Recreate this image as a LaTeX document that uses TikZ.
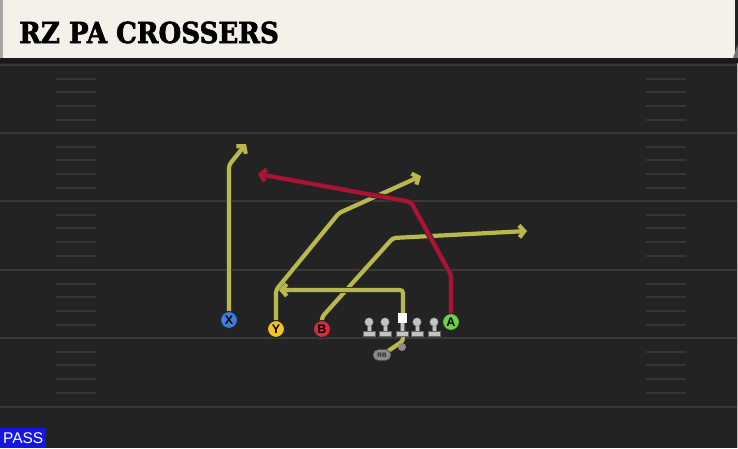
\documentclass[tikz,border=0pt]{standalone}
\usepackage{fontspec}
\setmainfont{DejaVu Serif}
\setsansfont{Liberation Sans}
\usetikzlibrary{arrows.meta,shapes.misc}

\definecolor{field}{HTML}{232323}
\definecolor{yardline}{HTML}{3A3A3A}
\definecolor{hashc}{HTML}{353535}
\definecolor{cream}{HTML}{F4F1EA}
\definecolor{routey}{HTML}{B9B84C}
\definecolor{router}{HTML}{AC1233}
\definecolor{xblue}{HTML}{3C7FE0}
\definecolor{yyellow}{HTML}{F5C420}
\definecolor{bred}{HTML}{E02A3A}
\definecolor{agreen}{HTML}{6CD244}
\definecolor{passblue}{HTML}{1515E6}
\definecolor{olgray}{HTML}{C4C4C4}

\tikzset{
  route/.style={line width=4.2pt, color=routey, rounded corners=3pt, line cap=round,
    -{Straight Barb[length=5pt,width=12pt,line width=4.2pt]},
    preaction={draw=black!85, line width=5.8pt,
      -{Straight Barb[length=5pt,width=12pt,line width=5.8pt]}}},
  hot/.style={route, color=router},
  player/.style={circle, draw=black!85, line width=1.1pt, minimum size=17pt,
    inner sep=0pt, font=\sffamily\bfseries\fontsize{12.5}{12.5}\selectfont, text=black},
  rbbox/.style={rounded rectangle,fill=black!45,draw=black!75,line width=0.5pt,
    minimum width=18pt,minimum height=11pt,inner sep=0pt,
    font=\sffamily\bfseries\fontsize{6.5}{6.5}\selectfont,text=black!85},
  lineman/.style={fill=olgray, draw=black!60, line width=0.3pt},
}

\begin{document}
\begin{tikzpicture}[x=1pt,y=-1pt]
  \useasboundingbox (0,0) rectangle (738,448);
  % field
  \fill[field] (0,0) rectangle (738,448);
  \foreach \s in {65,133,201,270,338,407}{%
    \draw[yardline,line width=1.6pt] (0,\s) -- (738,\s);
  }
  \foreach \s in {65,133,201,270,338}{% hash marks, both sides
    \foreach \d in {14,27,41,55}{
      \draw[hashc,line width=1.4pt] (56,\s+\d) -- (96,\s+\d);
      \draw[hashc,line width=1.4pt] (646,\s+\d) -- (686,\s+\d);
    }
  }
  \draw[black!30,line width=1pt] (737,62) -- (737,448);

  % header
  \fill[black!90] (0,56) rectangle (738,63);
  \fill[black!35] (0,0) rectangle (4,58);
  \fill[cream] (3,0) rectangle (735,58);
  \fill[black!55] (733,58) -- (738,44) -- (738,58) -- cycle;
  \node[anchor=west,inner sep=0pt,font=\bfseries\fontsize{29}{29}\selectfont]
    (title) at (19,32.5) {\addfontfeature{FakeStretch=0.9,FakeBold=2}RZ PA CROSSERS};

  % players
  \coordinate (Xa) at (229,165);
  \coordinate (Xb) at (246,144);
  \coordinate (Ya) at (276,290);
  \coordinate (Yb) at (339,213);
  \coordinate (Yc) at (421,176);
  \coordinate (Ba) at (322,317);
  \coordinate (Bb) at (393,238);
  \coordinate (Bc) at (527,231);
  \coordinate (Aa) at (451,275);
  \coordinate (Ab) at (411,202);
  \coordinate (Ac) at (258,174);
  \coordinate (Ra) at (403,341);
  \coordinate (Rb) at (403,290);
  \coordinate (Rc) at (279,290);

  \node[player,fill=xblue] (X) at (229,320) {X};
  \node[player,fill=yyellow] (Y) at (276,329) {Y};
  \node[player,fill=bred] (B) at (322,329) {B};
  \node[player,fill=agreen] (A) at (451,322) {A};
  \node[rbbox] (RB) at (382,355) {RB};

  % routes
  \draw[route] (X) -- (Xa) -- (Xb);
  \draw[route] (Y) -- (Ya) -- (Yb) -- (Yc);
  \draw[route] (B) -- (Ba) -- (Bb) -- (Bc);
  \draw[route] (RB) -- (Ra) -- (Rb) -- (Rc);
  \draw[hot] (A) -- (Aa) -- (Ab) -- (Ac);
  % redraw players on top
  \node[player,fill=xblue] at (X) {X};
  \node[player,fill=yyellow] at (Y) {Y};
  \node[player,fill=bred] at (B) {B};
  \node[player,fill=agreen] at (A) {A};
  \node[rbbox] at (RB) {RB};

  % line
  \foreach \x in {369,385,417,434}{%
    \draw[lineman] (\x-6,331) rectangle (\x+6,336);
    \draw[lineman] (\x-2.3,324) rectangle (\x+2.3,331.5);
    \draw[lineman] (\x,322) circle (4.3);
  }
  \draw[lineman] (402-6,331) rectangle (402+6,336);
  \draw[lineman] (402-2.3,322) rectangle (402+2.3,331.5);
  \fill[white] (397.5,313) rectangle (406.5,323);
  \node[circle,fill=black!45,inner sep=0pt,minimum size=8pt] (QB) at (402,347) {};

  % play type
  \node[fill=passblue,anchor=south west,minimum width=46pt,minimum height=20pt,
    inner sep=0pt,text=white,font=\sffamily\fontsize{15.5}{15.5}\selectfont] (pass) at (0,448) {PASS};
\end{tikzpicture}
\end{document}
